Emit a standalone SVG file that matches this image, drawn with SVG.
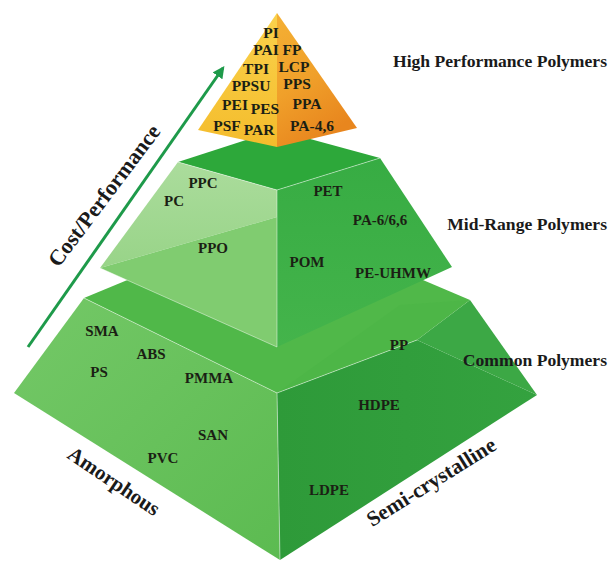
<svg xmlns="http://www.w3.org/2000/svg" width="610" height="563" viewBox="0 0 610 563">
<defs>
<linearGradient id="orL" x1="0" y1="0" x2="0" y2="1"><stop offset="0" stop-color="#FAD24C"/><stop offset="1" stop-color="#F4BC2C"/></linearGradient>
<linearGradient id="orR" x1="0" y1="0" x2="0.4" y2="1"><stop offset="0" stop-color="#F4B034"/><stop offset="0.55" stop-color="#F0A02A"/><stop offset="1" stop-color="#E8861E"/></linearGradient>
<linearGradient id="midL" x1="0" y1="0" x2="0" y2="1"><stop offset="0" stop-color="#ABDC9C"/><stop offset="1" stop-color="#98D488"/></linearGradient>
<linearGradient id="midR" x1="0" y1="0" x2="0" y2="1"><stop offset="0" stop-color="#37AC43"/><stop offset="1" stop-color="#44B44B"/></linearGradient>
<linearGradient id="botL" x1="0" y1="0" x2="1" y2="1"><stop offset="0" stop-color="#74C867"/><stop offset="1" stop-color="#5CBB51"/></linearGradient>
<linearGradient id="botR" x1="0" y1="0" x2="1" y2="0"><stop offset="0" stop-color="#2E9A39"/><stop offset="1" stop-color="#34A23F"/></linearGradient>
<marker id="ah" viewBox="0 0 10 10" refX="8" refY="5" markerWidth="4" markerHeight="4" orient="auto"><path d="M0,0 L10,5 L0,10 Z" fill="#1E9A4A"/></marker>
</defs>
<style>
.p{font-family:"Liberation Serif","Times New Roman",serif;font-weight:bold;fill:#1b1f14;text-anchor:middle}
.t{font-size:15.5px}
.m{font-size:15px}
.lab{font-family:"Liberation Serif","Times New Roman",serif;font-weight:bold;fill:#1a1a1a;font-size:17.6px;text-anchor:end}
.big{font-family:"Liberation Serif","Times New Roman",serif;font-weight:bold;fill:#1a1a1a;text-anchor:middle}
.hl{stroke:#FFFFFF;stroke-opacity:0.45;stroke-width:1;fill:none}
</style>
<rect width="610" height="563" fill="#FFFFFF"/>

<g id="tier-common">
<polygon points="84,298 277,218 470,300 277,393" fill="#50B849"/>
<polygon points="84,298 277,393 280,560 14,393" fill="url(#botL)"/>
<polygon points="277,393 417,340 537,395 280,560" fill="url(#botR)"/>
<polygon points="417,340 470,300 537,395" fill="#3CA845"/>
<polygon points="277,393 417,340 470,300 400,305" fill="#4DB647"/>
<polyline class="hl" points="84,298 277,393 417,340"/>
<line class="hl" x1="277" y1="393" x2="280" y2="560"/>
<text class="p m" x="102" y="336">SMA</text>
<text class="p m" x="151" y="359">ABS</text>
<text class="p m" x="99" y="377">PS</text>
<text class="p m" x="209" y="383">PMMA</text>
<text class="p m" x="213" y="440">SAN</text>
<text class="p m" x="163" y="463">PVC</text>
<text class="p m" x="399" y="350">PP</text>
<text class="p m" x="379" y="410">HDPE</text>
<text class="p m" x="329" y="495">LDPE</text>
</g>

<g id="tier-mid">
<polygon points="178,162 277,130 380,158 277,190" fill="#2DA83A"/>
<polygon points="178,162 277,190 277,217 100,268" fill="url(#midL)"/>
<polygon points="100,268 277,217 277,347" fill="#80CC70"/>
<polygon points="277,190 380,158 452,267 277,347" fill="url(#midR)"/>
<polyline class="hl" points="178,162 277,190 380,158"/>
<line class="hl" x1="277" y1="190" x2="277" y2="347"/>
<line class="hl" x1="100" y1="268" x2="277" y2="347"/>
<text class="p m" x="203" y="188">PPC</text>
<text class="p m" x="174" y="206">PC</text>
<text class="p m" x="213" y="253">PPO</text>
<text class="p m" x="328" y="196">PET</text>
<text class="p m" x="380" y="225">PA-6/6,6</text>
<text class="p m" x="307" y="267">POM</text>
<text class="p m" x="393" y="278">PE-UHMW</text>
</g>

<g id="tier-high">
<polygon points="277,13 198,130 277,147" fill="url(#orL)"/>
<polygon points="277,13 277,147 357,128" fill="url(#orR)"/>
<text class="p t" x="271" y="38">PI</text>
<text class="p t" x="266" y="55">PAI</text>
<text class="p t" x="292" y="55">FP</text>
<text class="p t" x="256" y="74">TPI</text>
<text class="p t" x="294" y="72">LCP</text>
<text class="p t" x="251" y="91">PPSU</text>
<text class="p t" x="297" y="89">PPS</text>
<text class="p t" x="235" y="110">PEI</text>
<text class="p t" x="265" y="114">PES</text>
<text class="p t" x="307" y="109">PPA</text>
<text class="p t" x="227" y="131">PSF</text>
<text class="p t" x="259" y="135">PAR</text>
<text class="p t" x="312" y="131">PA-4,6</text>
</g>

<g id="connectors">
<line x1="28" y1="347" x2="223" y2="68" stroke="#1E9A4A" stroke-width="3" marker-end="url(#ah)"/>
</g>

<g id="labels">
<text class="lab" x="607" y="67">High Performance Polymers</text>
<text class="lab" x="607" y="230">Mid-Range Polymers</text>
<text class="lab" x="607" y="366">Common Polymers</text>
<text class="big" font-size="22" transform="translate(110,200) rotate(-53)">Cost/Performance</text>
<text class="big" font-size="21" transform="translate(110,487) rotate(34)">Amorphous</text>
<text class="big" font-size="21.5" transform="translate(435,488) rotate(-32)">Semi-crystalline</text>
</g>
</svg>
